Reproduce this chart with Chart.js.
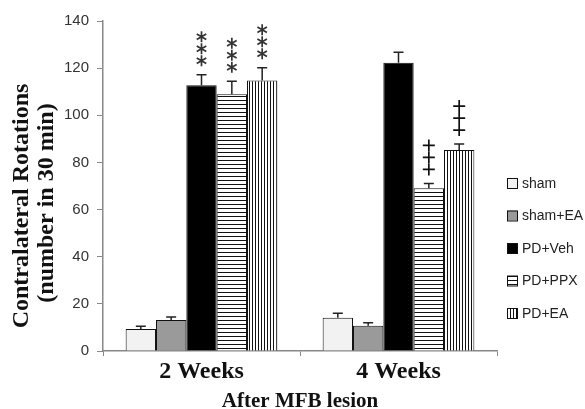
<!DOCTYPE html>
<html lang="en">
<head>
  <meta charset="UTF-8">
  <title>Contralateral Rotations</title>
  <script src="https://cdn.jsdelivr.net/npm/chart.js"></script>
  <style>
    html, body { margin: 0; padding: 0; background: #fff; }
    #chart { display: block; }
  </style>
</head>
<body>
  <canvas id="chart" width="585" height="409"></canvas>
  <script>
    // data
    const categories = ['2 Weeks', '4 Weeks'];
    const groups = ['sham', 'sham+EA', 'PD+Veh', 'PD+PPX', 'PD+EA'];
    const sham = [9.3, 14.1];
    const shamEA = [13.2, 10.7];
    const pdVeh = [112.7, 122.3];
    const pdPPX = [108.9, 69.0];
    const pdEA = [114.8, 85.3];
    // upper SEM
    const shamErr = [1.2, 1.9];
    const shamEAErr = [1.2, 1.3];
    const pdVehErr = [4.5, 4.4];
    const pdPPXErr = [5.5, 2.1];
    const pdEAErr = [5.4, 2.5];
    // significance marks above bars
    const marks = [
      ['', ''], ['', ''], ['***', ''], ['***', '+++'], ['***', '+++']
    ];
    const yTicks = [0, 20, 40, 60, 80, 100, 120, 140];

    function stripes(vertical, period) {
      const c = document.createElement('canvas');
      c.width = period; c.height = period;
      const g = c.getContext('2d');
      g.fillStyle = '#fff';
      g.fillRect(0, 0, period, period);
      g.fillStyle = '#111';
      if (vertical) g.fillRect(0, 0, 1, period);
      else g.fillRect(0, 0, period, 1);
      return document.getElementById('chart').getContext('2d').createPattern(c, 'repeat');
    }

    const fills = ['#f2f2f2', '#9a9a9a', '#000', stripes(false, 4), stripes(true, 3)];
    const values = [sham, shamEA, pdVeh, pdPPX, pdEA];
    const errs = [shamErr, shamEAErr, pdVehErr, pdPPXErr, pdEAErr];

    const serif = '"Liberation Serif", "Times New Roman", serif';
    const sans = '"Liberation Sans", Arial, sans-serif';

    // error bars (upper only) + stars / plus signs, y title, legend
    const extras = {
      id: 'extras',
      afterDatasetsDraw(chart) {
        const ctx = chart.ctx;
        const y = chart.scales.y;
        ctx.save();
        chart.data.datasets.forEach((ds, di) => {
          chart.getDatasetMeta(di).data.forEach((bar, i) => {
            const top = y.getPixelForValue(ds.data[i] + errs[di][i]);
            ctx.strokeStyle = '#222';
            ctx.lineWidth = 1.5;
            ctx.beginPath();
            ctx.moveTo(bar.x, bar.y);
            ctx.lineTo(bar.x, top);
            ctx.moveTo(bar.x - 5, top);
            ctx.lineTo(bar.x + 5, top);
            ctx.stroke();
            const m = marks[di][i];
            for (let k = 0; k < m.length; k++) {
              const cy = top - 14 - k * 12;
              ctx.lineWidth = 1.7;
              ctx.strokeStyle = m[k] === '*' ? '#333' : '#111';
              ctx.beginPath();
              if (m[k] === '*') {
                for (let a = 0; a < 3; a++) {
                  const ang = Math.PI / 2 + a * Math.PI / 3;
                  ctx.moveTo(bar.x + 5.5 * Math.cos(ang), cy + 5.5 * Math.sin(ang));
                  ctx.lineTo(bar.x - 5.5 * Math.cos(ang), cy - 5.5 * Math.sin(ang));
                }
              } else {
                ctx.moveTo(bar.x - 6, cy); ctx.lineTo(bar.x + 6, cy);
                ctx.moveTo(bar.x, cy - 6); ctx.lineTo(bar.x, cy + 6);
              }
              ctx.stroke();
            }
          });
        });
        ctx.restore();
      },
      afterDraw(chart) {
        const ctx = chart.ctx;
        ctx.save();
        ctx.fillStyle = '#111';
        ctx.font = 'bold 24px ' + serif;
        ctx.textAlign = 'center';
        ctx.textBaseline = 'middle';
        ctx.save();
        ctx.translate(22, 206);
        ctx.rotate(-Math.PI / 2);
        ctx.fillText('Contralateral Rotations', 0, 0);
        ctx.restore();
        ctx.save();
        ctx.translate(47, 203);
        ctx.rotate(-Math.PI / 2);
        ctx.fillText('(number in 30 min)', 0, 0);
        ctx.restore();
        // legend
        ctx.font = '14px ' + sans;
        ctx.textAlign = 'left';
        chart.data.datasets.forEach((ds, di) => {
          const cy = 183 + di * 32.5;
          ctx.fillStyle = ds.backgroundColor;
          ctx.fillRect(507, cy - 5, 10, 10);
          ctx.strokeStyle = '#111';
          ctx.lineWidth = 1;
          ctx.strokeRect(507.5, cy - 4.5, 10, 10);
          ctx.fillStyle = '#222';
          ctx.fillText(ds.label, 522, cy + 1);
        });
        ctx.restore();
      }
    };

    new Chart(document.getElementById('chart'), {
      type: 'bar',
      data: {
        labels: categories,
        datasets: groups.map((g, i) => ({
          label: g,
          data: values[i],
          backgroundColor: fills[i],
          borderColor: '#111',
          borderWidth: 1,
          borderSkipped: 'bottom',
          categoryPercentage: 0.77,
          barPercentage: 1.0
        }))
      },
      options: {
        responsive: false,
        animation: false,
        layout: { padding: { top: 21, right: 88, left: 0, bottom: 0 } },
        plugins: { legend: { display: false }, tooltip: { enabled: false } },
        scales: {
          x: {
            grid: { offset: true, drawOnChartArea: false, tickLength: 5, color: '#888' },
            border: { color: '#888', width: 1.5 },
            ticks: {
              color: '#111', padding: 1,
              font: { family: serif, size: 24, weight: 'bold' }
            },
            title: {
              display: true, text: 'After MFB lesion', color: '#111',
              font: { family: serif, size: 21, weight: 'bold' },
              padding: { top: 6, bottom: -5 }
            },
            afterFit(s) { s.height = 58; }
          },
          y: {
            min: 0, max: 140,
            afterBuildTicks(s) { s.ticks = yTicks.map(v => ({ value: v })); },
            grid: { drawOnChartArea: false, tickLength: 6, color: '#888' },
            border: { color: '#888', width: 1.5 },
            ticks: {
              color: '#333', padding: 8,
              font: { family: sans, size: 15 }
            },
            afterFit(s) { s.width = 103; }
          }
        }
      },
      plugins: [extras]
    });
  </script>
</body>
</html>
